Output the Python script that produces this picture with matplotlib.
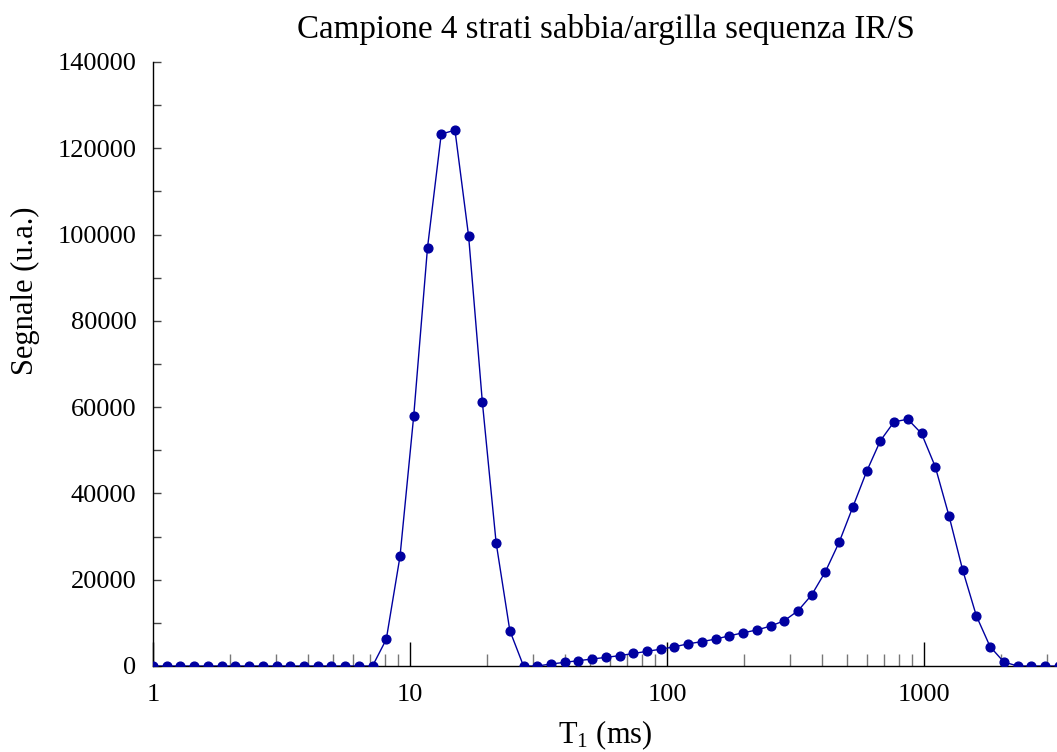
import matplotlib
matplotlib.use("Agg")
import matplotlib.pyplot as plt
from matplotlib.ticker import FixedLocator, FuncFormatter, MultipleLocator

plt.rcParams["font.family"] = ["Liberation Serif", "DejaVu Serif"]
plt.rcParams["mathtext.fontset"] = "custom"
plt.rcParams["mathtext.rm"] = "Liberation Serif"
plt.rcParams["mathtext.it"] = "Liberation Serif:italic"

# Relaxation times T1 (ms), log-spaced grid of the inversion
t1_ms = [
    1.000, 1.131, 1.279, 1.446, 1.635, 1.849, 2.091, 2.365, 2.674, 3.024,
    3.420, 3.867, 4.373, 4.945, 5.592, 6.323, 7.150, 8.086, 9.143, 10.34,
    11.70, 13.23, 14.96, 16.91, 19.12, 21.63, 24.46, 27.65, 31.28, 35.37,
    39.99, 45.22, 51.14, 57.83, 65.40, 73.96, 83.63, 94.57, 106.9, 120.9,
    136.8, 154.7, 174.9, 197.8, 223.7, 252.9, 286.0, 323.4, 365.8, 413.6,
    467.7, 528.9, 598.1, 676.3, 764.8, 864.8, 977.9, 1106, 1251, 1414,
    1599, 1808, 2045, 2313, 2615, 2957, 3344,
]

# Signal amplitude (a.u.) for each T1 bin
signal = [
    0, 0, 0, 0, 0, 0, 0, 0, 0, 0,
    0, 0, 0, 0, 0, 0, 0, 6200, 25400, 58000,
    97000, 123300, 124200, 99600, 61200, 28600, 8200, 0, 0, 460,
    850, 1240, 1620, 2000, 2400, 2900, 3400, 3900, 4450, 5150,
    5650, 6250, 7000, 7700, 8350, 9250, 10500, 12800, 16500, 21900,
    28700, 36900, 45100, 52200, 56600, 57200, 53900, 46200, 34800, 22250,
    11600, 4480, 930, 0, 0, 0, 0,
]

x_major = [1, 10, 100, 1000]
x_labels = ["1", "10", "100", "1000"]

title = "Campione 4 strati sabbia/argilla sequenza IR/S"
xlabel = r"T$_1$ (ms)"
ylabel = "Segnale (u.a.)"

W, H = 1057, 752
fig = plt.figure(figsize=(W / 100, H / 100), dpi=100)

# axes: x from 1 to 10000 on a 257 px/decade scale, the right part runs off the page
left_px, bottom_px, top_px = 153, 666, 62
ax = fig.add_axes([left_px / W, (H - bottom_px) / H,
                   4 * 257 / W, (bottom_px - top_px) / H])

color = "#0000A0"
ax.plot(t1_ms, signal, color=color, lw=1.0, marker="o", ms=6.3,
        mec=color, mfc=color, zorder=3)

ax.set_xscale("log")
ax.set_xlim(1, 10000)
ax.set_ylim(0, 140000)

for side in ("top", "right"):
    ax.spines[side].set_visible(False)
for side in ("left", "bottom"):
    ax.spines[side].set_linewidth(1.0)
    ax.spines[side].set_color("black")

ax.xaxis.set_major_locator(FixedLocator(x_major))
ax.xaxis.set_major_formatter(FuncFormatter(
    lambda v, p: x_labels[x_major.index(round(v))] if round(v) in x_major else ""))
minor = [m * d for d in (1, 10, 100, 1000) for m in range(2, 10)]
ax.xaxis.set_minor_locator(FixedLocator(minor))
ax.xaxis.set_minor_formatter(FuncFormatter(lambda v, p: ""))

ax.yaxis.set_major_locator(MultipleLocator(20000))
ax.yaxis.set_minor_locator(MultipleLocator(10000))
ax.yaxis.set_major_formatter(FuncFormatter(lambda v, p: f"{int(v)}"))

ax.tick_params(axis="x", which="major", direction="in", length=17, width=1.0,
               color="black", pad=13, labelsize=19)
ax.tick_params(axis="x", which="minor", direction="in", length=8.5, width=1.0,
               color="#777777")
ax.tick_params(axis="y", which="both", direction="in", length=5.5, width=1.0,
               color="#444444", pad=12, labelsize=19)

fig.text(606 / W, 1 - 38 / H, title, ha="center", va="baseline", fontsize=23.8)
fig.text(605 / W, 1 - 743 / H, xlabel, ha="center", va="baseline", fontsize=22)
fig.text(25 / W, 1 - 291 / H, ylabel, ha="center", va="center",
         rotation=90, fontsize=22)

fig.savefig("out.png", dpi=100)
